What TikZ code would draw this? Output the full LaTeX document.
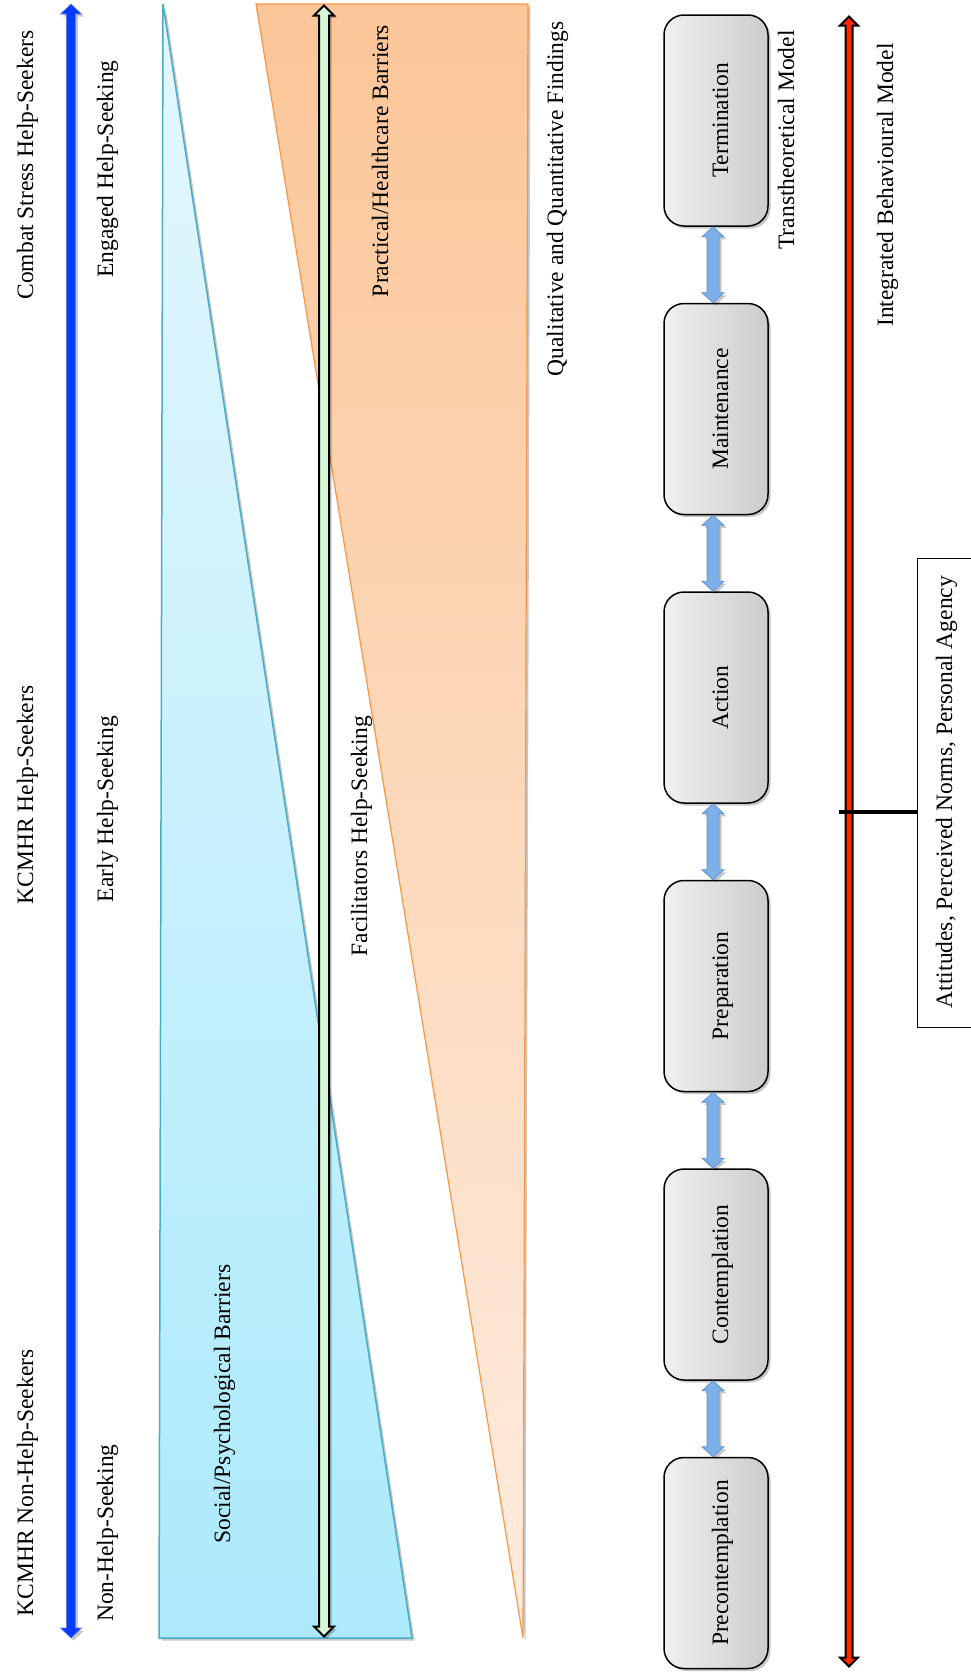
\documentclass[tikz,border=0pt]{standalone}
\usepackage{fontspec}
\setmainfont{Liberation Serif}
\usepackage{graphicx}
\usetikzlibrary{shadows,calc}

\definecolor{psytop}{RGB}{228,247,253}
\definecolor{psyfill}{RGB}{172,234,251}
\definecolor{psyline}{RGB}{75,172,198}
\definecolor{practop}{RGB}{251,198,152}
\definecolor{pracbot}{RGB}{254,236,223}
\definecolor{pracline}{RGB}{247,150,70}
\definecolor{facfill}{RGB}{214,248,214}
\definecolor{seekblue}{RGB}{8,58,255}
\definecolor{seekedge}{RGB}{90,125,225}
\definecolor{stageblue}{RGB}{125,176,232}
\definecolor{stageedge}{RGB}{92,145,210}
\definecolor{ibmred}{RGB}{255,40,0}
\definecolor{stageL}{RGB}{240,240,240}
\definecolor{stageR}{RGB}{204,204,204}

% vertical block arrow with a head at both ends:
% #1 style, #2 upper end, #3 lower end, #4 half shaft, #5 half head, #6 head length
\newcommand\blockarr[6]{%
  \path[#1] let \p1=(#2), \p2=(#3) in
    (\x1,\y1) -- ({\x1+#5},{\y1-#6}) -- ({\x1+#4},{\y1-#6})
    -- ({\x1+#4},{\y2+#6}) -- ({\x1+#5},{\y2+#6}) -- (\x1,\y2)
    -- ({\x1-#5},{\y2+#6}) -- ({\x1-#4},{\y2+#6})
    -- ({\x1-#4},{\y1-#6}) -- ({\x1-#5},{\y1-#6}) -- cycle;}

\begin{document}
\begin{tikzpicture}[x=1pt,y=-1pt,
  font=\fontsize{23.5}{28}\selectfont,
  shadowy/.style={drop shadow={shadow xshift=2.5pt,shadow yshift=-2.5pt,opacity=0.22,fill=black}},
  lbl/.style={rotate=90,anchor=base,inner sep=0pt},
  stage/.style={draw=black,line width=1.5pt,rounded corners=20pt,
    left color=stageL,right color=stageR,minimum width=104pt,
    minimum height=211pt,inner sep=0pt,shadowy},
  conn/.style={fill=stageblue,draw=stageedge,line width=0.7pt,shadowy}]

\useasboundingbox (0,0) rectangle (971,1679);
\clip (0,0) rectangle (971,1679);

% help-seeking spectrum
\coordinate (seekTop) at (71,4);
\coordinate (seekBot) at (71,1638);
\blockarr{fill=seekblue,draw=seekedge,line width=0.6pt,shadowy}{seekTop}{seekBot}{4.5pt}{10.5pt}{10pt}

\node[lbl] (grpCS)  at (33,165)  {Combat Stress Help-Seekers};
\node[lbl] (grpKH)  at (33,795)  {KCMHR Help-Seekers};
\node[lbl] (grpKN)  at (33,1483) {KCMHR Non-Help-Seekers};
\node[lbl] (lvlEng) at (113,169) {Engaged Help-Seeking};
\node[lbl] (lvlEar) at (113,809) {Early Help-Seeking};
\node[lbl] (lvlNon) at (113,1533) {Non-Help-Seeking};

% barrier wedges
\path[draw=psyline,line width=1.5pt,top color=psytop,bottom color=psyfill,shadowy]
  (163,4) -- (159,1638) -- (412,1638) -- cycle;
\path[draw=pracline,line width=1.2pt,top color=practop,bottom color=pracbot,shadowy]
  (256,4) -- (528,4) -- (523,1638) -- cycle;

% facilitators
\coordinate (facTop) at (324,5.5);
\coordinate (facBot) at (324,1636.5);
\blockarr{fill=facfill,draw=black,line width=2pt,shadowy}{facTop}{facBot}{5pt}{10pt}{10pt}

\node[lbl] (wPsy)  at (230,1404) {Social/Psychological Barriers};
\node[lbl] (wPrac) at (388,161)  {Practical/Healthcare Barriers};
\node[lbl] (wFac)  at (367,836)  {Facilitators Help-Seeking};
\node[lbl] (wFind) at (563,199)  {Qualitative and Quantitative Findings};

% transtheoretical stages
\node[stage] (pre)  at (716,1563)   {};
\node[stage] (con)  at (716,1274.5) {};
\node[stage] (prep) at (716,986)    {};
\node[stage] (act)  at (716,697.5)  {};
\node[stage] (main) at (716,409)    {};
\node[stage] (term) at (716,120.5)  {};

\node[lbl] (preT)  at ([xshift=12pt]pre.center)  {Precontemplation};
\node[lbl] (conT)  at ([xshift=12pt]con.center)  {Contemplation};
\node[lbl] (prepT) at ([xshift=12pt]prep.center) {Preparation};
\node[lbl] (actT)  at ([xshift=12pt]act.center)  {Action};
\node[lbl] (mainT) at ([xshift=12pt]main.center) {Maintenance};
\node[lbl] (termT) at ([xshift=12pt]term.center) {Termination};

\blockarr{conn}{[xshift=-3pt]term.south}{[xshift=-3pt]main.north}{6pt}{11pt}{10pt}
\blockarr{conn}{[xshift=-3pt]main.south}{[xshift=-3pt]act.north}{6pt}{11pt}{10pt}
\blockarr{conn}{[xshift=-3pt]act.south}{[xshift=-3pt]prep.north}{6pt}{11pt}{10pt}
\blockarr{conn}{[xshift=-3pt]prep.south}{[xshift=-3pt]con.north}{6pt}{11pt}{10pt}
\blockarr{conn}{[xshift=-3pt]con.south}{[xshift=-3pt]pre.north}{6pt}{11pt}{10pt}

\node[lbl] (ttm) at (794,140) {Transtheoretical Model};

% integrated behavioural model
\coordinate (ibmTop) at (849,16.5);
\coordinate (ibmBot) at (849,1666.5);
\blockarr{fill=ibmred,draw=black,line width=2pt}{ibmTop}{ibmBot}{3.5pt}{9pt}{9pt}
\node[lbl] (ibm) at (893,185) {Integrated Behavioural Model};

\node[draw=black,line width=1.3pt,fill=white,minimum width=90pt,
  minimum height=469pt,anchor=north west,inner sep=0pt] (att) at (917,558) {};
\node[lbl] (attT) at (952,792) {Attitudes, Perceived Norms, Personal Agency};

\coordinate (ibmTap) at (839,812);
\draw[line width=4pt] (ibmTap) -- (ibmTap -| att.west);
\end{tikzpicture}
\end{document}
